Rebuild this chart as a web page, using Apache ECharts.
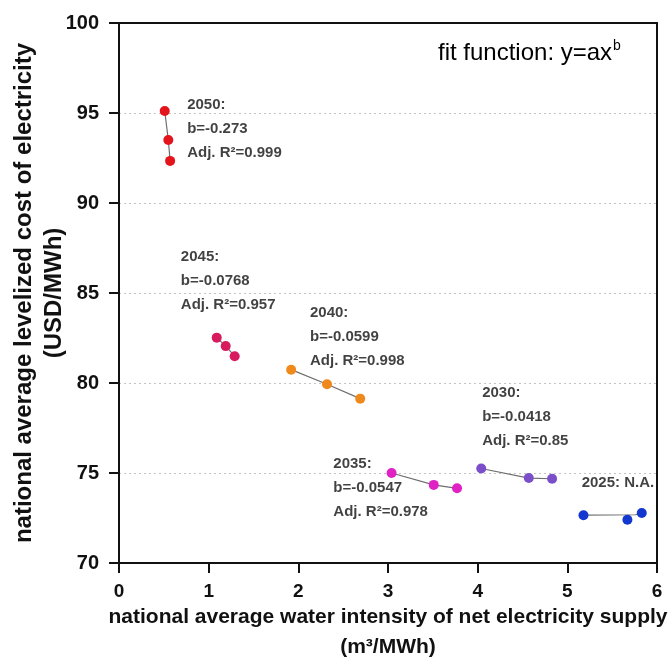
<!DOCTYPE html>
<html>
<head>
<meta charset="utf-8">
<script src="https://cdn.jsdelivr.net/npm/echarts@6/dist/echarts.min.js"></script>
<style>
  html, body { margin: 0; padding: 0; background: #fff; }
  #main { width: 671px; height: 659px; }
</style>
</head>
<body>
<div id="main"></div>
<script>
// scenario years and their marker colours
var years = ['2050', '2045', '2040', '2035', '2030', '2025'];
var colors = ['#e3141c', '#d81b5f', '#f0891c', '#e021c4', '#7a4fc9', '#1238cf'];

// water intensity (m3/MWh) and LCOE (USD/MWh)
var water2050 = [0.51, 0.55, 0.57];
var cost2050 = [95.11, 93.5, 92.34];
var water2045 = [1.09, 1.19, 1.29];
var cost2045 = [82.52, 82.05, 81.49];
var water2040 = [1.92, 2.32, 2.69];
var cost2040 = [80.74, 79.93, 79.13];
var water2035 = [3.04, 3.51, 3.77];
var cost2035 = [75.0, 74.34, 74.15];
var water2030 = [4.04, 4.57, 4.83];
var cost2030 = [75.25, 74.72, 74.68];
var water2025 = [5.18, 5.67, 5.83];
var cost2025 = [72.65, 72.4, 72.78];

// 2025 has no fit, the grey line is drawn flat
var fit2025x = [5.18, 5.76, 5.83];
var fit2025y = [72.66, 72.68, 72.78];

// annotation texts, anchored at the middle of their first line
var noteX = [0.76, 0.69, 2.13, 2.39, 4.05, 5.16];
var noteY = [95.44, 87.0, 83.89, 75.5, 79.44, 74.44];
var noteB = ['-0.273', '-0.0768', '-0.0599', '-0.0547', '-0.0418', null];
var noteR2 = ['0.999', '0.957', '0.998', '0.978', '0.85', null];

var xTicks = [0, 6, 1];
var yTicks = [70, 100, 5];

var waters = [water2050, water2045, water2040, water2035, water2030, water2025];
var costs = [cost2050, cost2045, cost2040, cost2035, cost2030, cost2025];

function pairs(xs, ys) {
  var out = [];
  for (var i = 0; i < xs.length; i++) out.push([xs[i], ys[i]]);
  return out;
}

var font = '"Liberation Sans", Arial, sans-serif';
var ink = '#111';
var series = [];

years.forEach(function (y, k) {
  var fit = y === '2025' ? pairs(fit2025x, fit2025y) : pairs(waters[k], costs[k]);
  series.push({
    name: 'fit' + y,
    type: 'line',
    data: fit,
    showSymbol: false,
    silent: true,
    z: 2,
    lineStyle: { color: '#6e6e6e', width: 1.2 }
  });
  series.push({
    name: y,
    type: 'scatter',
    data: pairs(waters[k], costs[k]),
    symbolSize: 10,
    z: 3,
    itemStyle: { color: colors[k], opacity: 1 }
  });
});

var notes = years.map(function (y, k) {
  var txt;
  if (noteB[k] === null) {
    txt = '{t|' + y + ': N.A.}';
  } else {
    txt = '{t|' + y + ':}\n{t|b=' + noteB[k] + '}\n{t|Adj. R\u00b2=' + noteR2[k] + '}';
  }
  return { value: [noteX[k], noteY[k]], txt: txt };
});

series.push({
  name: 'notes',
  type: 'scatter',
  symbolSize: 0,
  silent: true,
  z: 4,
  data: notes,
  label: {
    show: true,
    position: [0, -12],
    align: 'left',
    verticalAlign: 'top',
    formatter: function (p) { return p.data.txt; },
    rich: {
      t: { fontFamily: font, fontSize: 15, fontWeight: 'bold', color: ink, lineHeight: 24 }
    }
  }
});

var option = {
  animation: false,
  backgroundColor: '#fff',
  grid: {
    left: 119, right: 14, top: 23, bottom: 96,
    outerBoundsMode: 'none',
    containLabel: false,
    show: true, borderColor: ink, borderWidth: 2, z: 5
  },
  graphic: [{
    type: 'text',
    left: 438,
    top: 39,
    style: {
      text: '{a|fit function: y=ax}{b|b}',
      rich: {
        a: { fontFamily: font, fontSize: 24, color: ink, lineHeight: 28 },
        b: { fontFamily: font, fontSize: 14, color: ink, verticalAlign: 'top', lineHeight: 28, padding: [0, 0, 12, 1] }
      }
    }
  }],
  xAxis: {
    type: 'value',
    min: xTicks[0], max: xTicks[1], interval: xTicks[2],
    name: 'national average water intensity of net electricity supply\n(m\u00b3/MWh)',
    nameLocation: 'middle',
    nameGap: 39,
    nameMoveOverlap: false,
    nameTextStyle: { fontFamily: font, fontSize: 21, fontWeight: 'bold', color: ink, lineHeight: 30 },
    axisLine: { show: true, onZero: false, lineStyle: { color: ink, width: 2 } },
    axisTick: { show: true, inside: false, length: 10, lineStyle: { color: ink, width: 2 } },
    axisLabel: { margin: 19, fontFamily: font, fontSize: 19, fontWeight: 'bold', color: ink },
    splitLine: { show: false }
  },
  yAxis: {
    type: 'value',
    min: yTicks[0], max: yTicks[1], interval: yTicks[2],
    name: 'national average levelized cost of electricity\n(USD/MWh)',
    nameLocation: 'middle',
    nameGap: 50,
    nameMoveOverlap: false,
    nameTextStyle: { fontFamily: font, fontSize: 24, fontWeight: 'bold', color: ink, lineHeight: 30 },
    axisLine: { show: true, onZero: false, lineStyle: { color: ink, width: 2 } },
    axisTick: { show: true, inside: false, length: 10, lineStyle: { color: ink, width: 2 } },
    axisLabel: { margin: 20, fontFamily: font, fontSize: 20, fontWeight: 'bold', color: ink },
    splitLine: {
      show: true, showMinLine: false, showMaxLine: false,
      lineStyle: { color: '#c4c4c4', type: [2, 3], width: 1 }
    }
  },
  series: series
};

var chart = echarts.init(document.getElementById('main'));
chart.setOption(option);
</script>
</body>
</html>
